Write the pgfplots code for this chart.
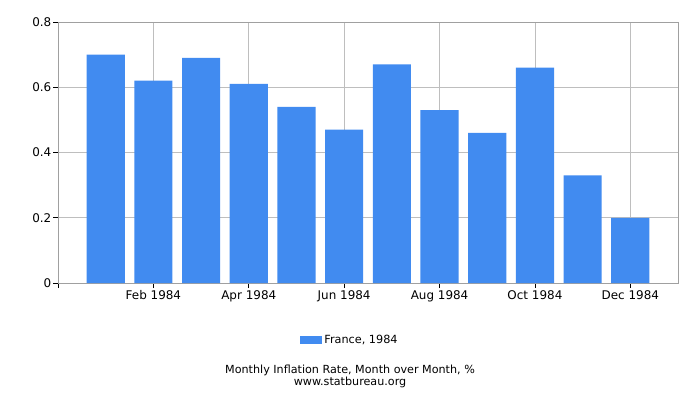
\documentclass[border=0pt]{standalone}
\usepackage{fontspec}
\setmainfont{DejaVu Sans}
\usepackage{pgfplots}
\pgfplotsset{compat=1.18}
\definecolor{barblue}{RGB}{65,139,240}
\definecolor{gridgray}{RGB}{190,190,190}
\definecolor{framegray}{RGB}{160,160,160}
\begin{document}
\begin{tikzpicture}[x=1bp,y=1bp]
\useasboundingbox (0,0) rectangle (700,400);
\begin{axis}[
  at={(58bp,117bp)}, anchor=south west,
  width=620bp, height=261bp, scale only axis,
  xmin=0, xmax=13, ymin=0, ymax=0.8,
  axis line style={framegray},
  grid=major, grid style={gridgray, line width=0.8bp},
  xtick={0,2,4,6,8,10,12},
  xticklabels={,Feb 1984,Apr 1984,Jun 1984,Aug 1984,Oct 1984,Dec 1984},
  ytick={0,0.2,0.4,0.6,0.8},
  yticklabels={0,0.2,0.4,0.6,0.8},
  xtick pos=bottom, ytick pos=left, tick align=outside,
  major tick length=5bp,
  tick style={black, line width=0.8bp},
  ticklabel style={font=\fontsize{12}{14}\selectfont, inner sep=1.5bp},
  /pgf/number format/assume math mode=true,
  xticklabel style={yshift=-1bp},
  legend style={at={(0.471,-0.219)}, anchor=center, draw=none,
    font=\fontsize{11.3}{13}\selectfont, legend columns=-1},
  legend image code/.code={\fill[barblue] (0bp,-4bp) rectangle (22bp,4bp);},
]
\addplot[ybar, bar width=0.8, fill=barblue, draw=none] coordinates {
(1,0.70) (2,0.62) (3,0.69) (4,0.61) (5,0.54) (6,0.47)
(7,0.67) (8,0.53) (9,0.46) (10,0.66) (11,0.33) (12,0.20)
};
\addlegendentry{France, 1984}
\end{axis}
\node[font=\fontsize{11.2}{10}\selectfont, align=center, anchor=center] at (350,23.5)
  {Monthly Inflation Rate, Month over Month, \%\\www.statbureau.org};
\end{tikzpicture}
\end{document}
